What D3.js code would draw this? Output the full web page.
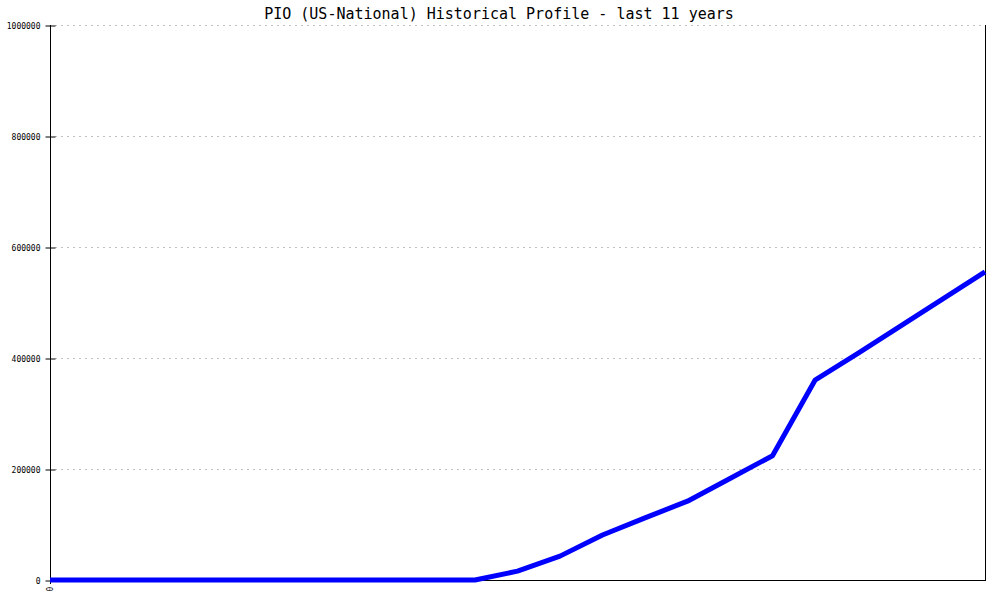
<!DOCTYPE html>
<html><head><meta charset="utf-8">
<script src="https://cdn.jsdelivr.net/npm/d3@7"></script>
<style>body{margin:0;background:#fff}svg{display:block}</style>
</head><body>
<script>
const titleText = "PIO (US-National) Historical Profile - last 11 years";
const xIndex = [0,1,2,3,4,5,6,7,8,9,10,11,12,13,14,15,16,17,18,19,20,21,22];
const values = [0,0,0,0,0,0,0,0,0,0,0,16000,43000,81000,112000,142000,183000,224000,360000,408000,457000,506000,555000];
const yTicks = [0,200000,400000,600000,800000,1000000];
const xTickLabels = [{i:0,label:"0"}];

const W=1000,H=600, L=50,R=985,T=25,B=580;
const svg=d3.select("body").append("svg").attr("width",W).attr("height",H);
const x=d3.scaleLinear().domain([0,22]).range([L,R]);
const y=d3.scaleLinear().domain([0,1000000]).range([B,T]);

svg.append("text").attr("x",499).attr("y",19).attr("text-anchor","middle")
  .style("font-family","DejaVu Sans Mono").style("font-size","15px")
  .text(titleText);

// grid
svg.append("g").selectAll("line").data(yTicks.filter(d=>d>0)).join("line")
  .attr("x1",L+5).attr("x2",R).attr("y1",d=>y(d)+0.5).attr("y2",d=>y(d)+0.5)
  .attr("stroke","#c0c0c0").attr("stroke-dasharray","2,4");

// y axis
const ya=d3.axisLeft(y).tickValues(yTicks).tickSize(5).tickFormat(d3.format("d"));
const gy=svg.append("g").attr("transform",`translate(${L+0.5},0.5)`).call(ya);
gy.select(".domain").remove();
gy.selectAll(".tick line").attr("x2",5).attr("x1",-5).attr("stroke","#000");
gy.selectAll(".tick text").attr("x",-10).attr("dy","0.32em")
  .style("font-family","DejaVu Sans Mono").style("font-size","8px").attr("fill","#000");

// frame lines
svg.append("line").attr("x1",L+0.5).attr("x2",L+0.5).attr("y1",T).attr("y2",B+4).attr("stroke","#000");
svg.append("line").attr("x1",R+0.5).attr("x2",R+0.5).attr("y1",T).attr("y2",B).attr("stroke","#000");
svg.append("line").attr("x1",L).attr("x2",R+1).attr("y1",B+0.5).attr("y2",B+0.5).attr("stroke","#000");

// x tick labels
svg.append("g").selectAll("text").data(xTickLabels).join("text")
  .attr("transform",d=>`translate(${x(d.i)+3},${B+9}) rotate(-90)`)
  .attr("text-anchor","middle")
  .style("font-family","DejaVu Sans Mono").style("font-size","8px").text(d=>d.label);

// line
const line=d3.line().x((d,i)=>x(xIndex[i])).y(d=>y(d));
svg.append("path").datum(values).attr("d",line).attr("fill","none")
  .attr("stroke","#0000ff").attr("stroke-width",5).attr("stroke-linejoin","round");
</script>
</body></html>
